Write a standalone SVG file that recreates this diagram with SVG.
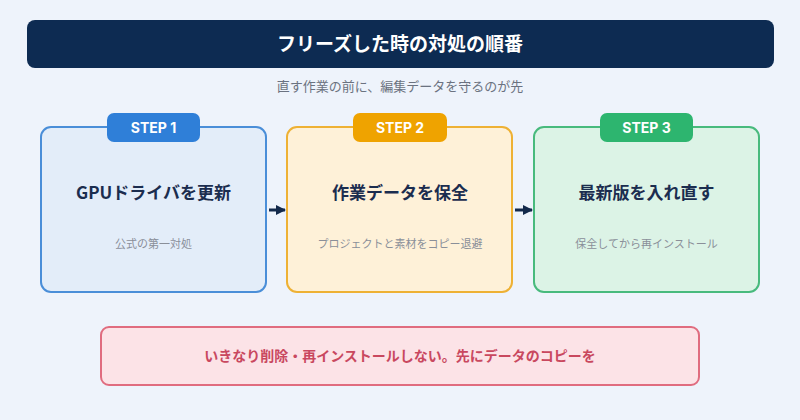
<svg xmlns="http://www.w3.org/2000/svg" width="800" height="420" viewBox="0 0 800 420">
<defs>
<style>
text{font-family:"Noto Sans CJK JP","Noto Sans",sans-serif;text-anchor:middle}
.title{font-size:19px;font-weight:700;fill:#ffffff}
.sub{font-size:13px;fill:#6b7280}
.tab{font-size:14px;font-weight:700;fill:#ffffff;font-family:"Inter","Noto Sans",sans-serif}
.head{font-size:17px;font-weight:700;fill:#1b2d4f}
.desc{font-size:11px;fill:#8a8f99}
.warn{font-size:14px;font-weight:700;fill:#c9485f}
.card{stroke-width:2}
</style>
<marker id="ah" markerWidth="10" markerHeight="10" refX="9" refY="5" orient="auto" markerUnits="userSpaceOnUse">
<path d="M0,0 L10,5 L0,10 Z" fill="#13294b"/>
</marker>
</defs>
<rect width="800" height="420" fill="#eef3fb"/>
<g id="header">
<rect x="27" y="20" width="747" height="48" rx="8" fill="#0d2b52"/>
<text class="title" x="400" y="51">フリーズした時の対処の順番</text>
</g>
<text class="sub" x="400" y="91">直す作業の前に、編集データを守るのが先</text>
<g id="connectors" stroke="#13294b" stroke-width="3" fill="none">
<line x1="269" y1="210" x2="285" y2="210" marker-end="url(#ah)"/>
<line x1="515" y1="210" x2="532" y2="210" marker-end="url(#ah)"/>
</g>
<g id="step1">
<rect class="card" x="41" y="127" width="225" height="165" rx="10" fill="#e3edf9" stroke="#4a8ed8"/>
<rect x="107" y="113" width="93" height="29" rx="7" fill="#2f7fd8"/>
<text class="tab" x="153.5" y="133">STEP 1</text>
<text class="head" x="153.5" y="199">GPUドライバを更新</text>
<text class="desc" x="153.5" y="248">公式の第一対処</text>
</g>
<g id="step2">
<rect class="card" x="287" y="127" width="225" height="165" rx="10" fill="#fef1d8" stroke="#eeb134"/>
<rect x="353" y="113" width="94" height="29" rx="7" fill="#efa300"/>
<text class="tab" x="400" y="133">STEP 2</text>
<text class="head" x="400" y="199">作業データを保全</text>
<text class="desc" x="400" y="248">プロジェクトと素材をコピー退避</text>
</g>
<g id="step3">
<rect class="card" x="534" y="127" width="225" height="165" rx="10" fill="#dcf3e6" stroke="#48ba7d"/>
<rect x="600" y="113" width="93" height="29" rx="7" fill="#2db56f"/>
<text class="tab" x="646.5" y="133">STEP 3</text>
<text class="head" x="646.5" y="199">最新版を入れ直す</text>
<text class="desc" x="646.5" y="248">保全してから再インストール</text>
</g>
<g id="warning">
<rect x="101" y="327" width="598" height="58" rx="8" fill="#fce3e7" stroke="#e06c7f" stroke-width="2"/>
<text class="warn" x="400" y="361">いきなり削除・再インストールしない。先にデータのコピーを</text>
</g>
</svg>
